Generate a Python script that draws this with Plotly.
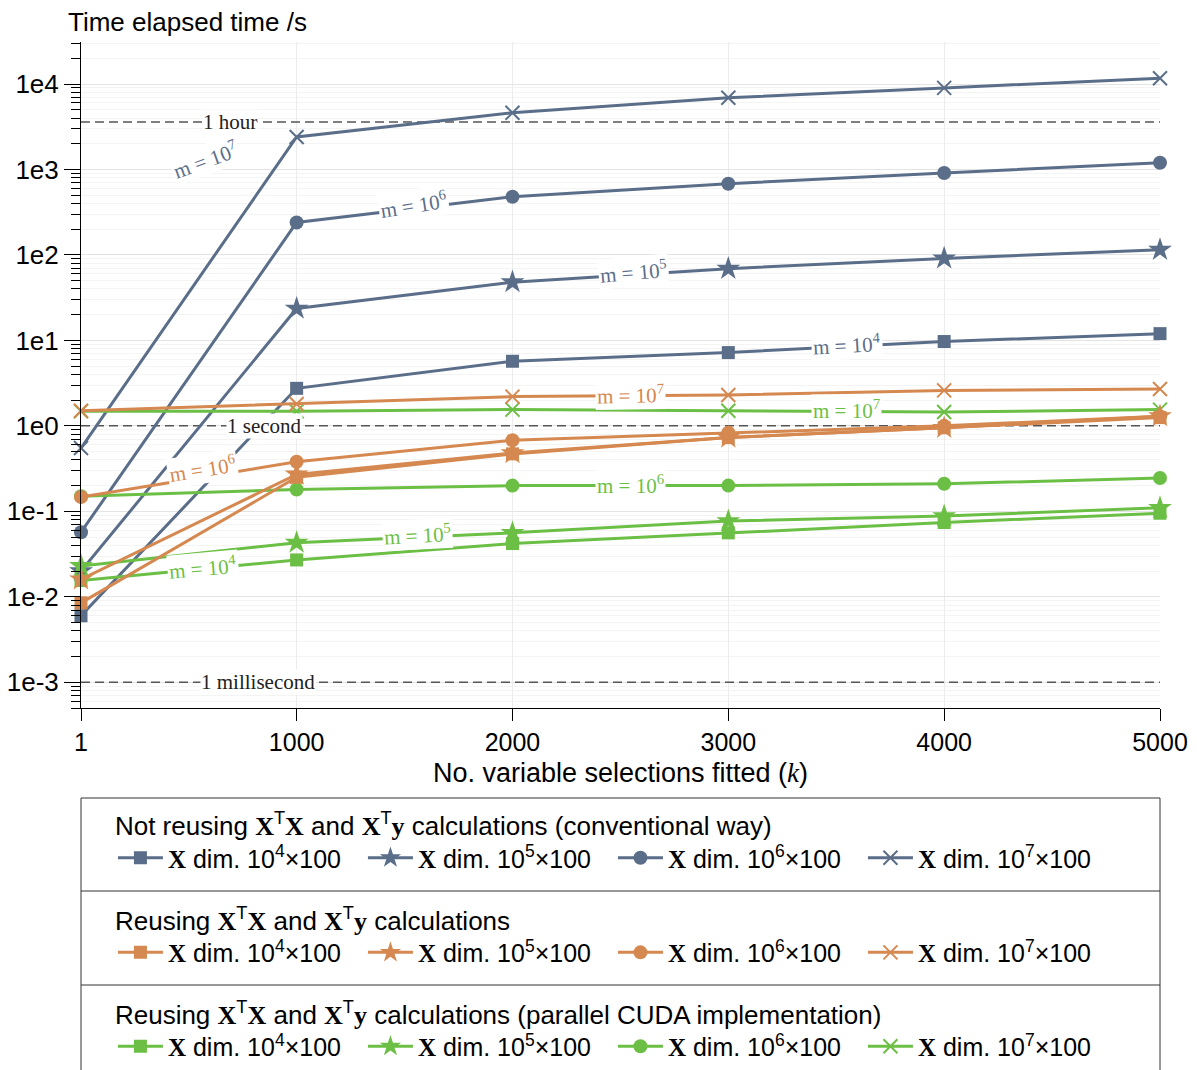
import math
import plotly.graph_objects as go

# ---------------- data ----------------
k = [1, 1000, 2000, 3000, 4000, 5000]

conv_1e4 = [0.006, 2.75, 5.7, 7.2, 9.7, 12.0]
conv_1e5 = [0.02, 23.6, 48, 69, 91, 115]
conv_1e6 = [0.057, 240, 480, 680, 910, 1200]
conv_1e7 = [0.55, 2400, 4600, 6900, 9000, 11700]

reuse_1e4 = [0.0085, 0.25, 0.47, 0.73, 0.95, 1.25]
reuse_1e5 = [0.016, 0.27, 0.48, 0.73, 0.95, 1.3]
reuse_1e6 = [0.147, 0.38, 0.68, 0.83, 1.0, 1.3]
reuse_1e7 = [1.5, 1.8, 2.2, 2.3, 2.6, 2.7]

cuda_1e4 = [0.0155, 0.027, 0.042, 0.056, 0.074, 0.095]
cuda_1e5 = [0.023, 0.043, 0.056, 0.077, 0.088, 0.11]
cuda_1e6 = [0.15, 0.18, 0.2, 0.2, 0.21, 0.245]
cuda_1e7 = [1.48, 1.48, 1.55, 1.5, 1.45, 1.55]

ref_values = [3600, 1, 0.001]
ref_labels = ["1 hour", "1 second", "1 millisecond"]

y_tickvals = [1e-3, 1e-2, 1e-1, 1e0, 1e1, 1e2, 1e3, 1e4]
y_ticktext = ["1e-3", "1e-2", "1e-1", "1e0", "1e1", "1e2", "1e3", "1e4"]
x_tickvals = [1, 1000, 2000, 3000, 4000, 5000]

group_titles = [
    "Not reusing {XT}X and {XT}y calculations (conventional way)",
    "Reusing {XT}X and {XT}y calculations",
    "Reusing {XT}X and {XT}y calculations (parallel CUDA implementation)",
]
dims = ["4", "5", "6", "7"]

# ---------------- styles ----------------
BLUE = "#5b6e89"
ORANGE = "#d5884f"
GREEN = "#6cbf45"
SERIF = "Liberation Serif"
SANS = "Liberation Sans"

symbols = ["square", "star", "circle", "x-thin"]
msizes = [13, 18, 14, 14]

groups = [
    (BLUE, [conv_1e4, conv_1e5, conv_1e6, conv_1e7], "legend"),
    (ORANGE, [reuse_1e4, reuse_1e5, reuse_1e6, reuse_1e7], "legend2"),
    (GREEN, [cuda_1e4, cuda_1e5, cuda_1e6, cuda_1e7], "legend3"),
]

def bx(s):
    return f'<span style="font-family:{SERIF}"><b>{s}</b></span>'

def mathify(t):
    return t.replace("{XT}X", bx("X") + "<sup>T</sup>" + bx("X")).replace(
        "{XT}y", bx("X") + "<sup>T</sup>" + bx("y"))

fig = go.Figure()

# reference dashed lines
for v in ref_values:
    fig.add_trace(go.Scatter(x=[k[0], k[-1]], y=[v, v], mode="lines",
                             line=dict(color="#555555", width=1.5, dash="9px,5px"),
                             showlegend=False, hoverinfo="skip"))

draw_order = [0, 2, 1]
for gi in draw_order:
    color, series, leg = groups[gi]
    for si, ys in enumerate(series):
        sym = symbols[si]
        marker = dict(symbol=sym, size=msizes[si], color=color)
        if sym == "x-thin":
            marker["line"] = dict(color=color, width=2)
        else:
            marker["line"] = dict(width=0)
        fig.add_trace(go.Scatter(
            x=k, y=ys, mode="lines+markers",
            line=dict(color=color, width=3),
            marker=marker, cliponaxis=False,
            name=bx("X") + f" dim. 10<sup>{dims[si]}</sup>×100",
            legend=leg, legendrank=si,
        ))

# inline line labels: (exponent, color, k position, log10 y, angle)
line_labels = [
    ("7", BLUE, 579, 3.113, -20),
    ("6", BLUE, 1541, 2.588, -9),
    ("5", BLUE, 2563, 1.806, -5),
    ("4", BLUE, 3548, 0.955, -3),
    ("7", ORANGE, 2549, 0.371, -1),
    ("6", ORANGE, 565, -0.504, -9),
    ("7", GREEN, 3548, 0.196, 0),
    ("6", GREEN, 2549, -0.691, 0),
    ("5", GREEN, 1560, -1.274, -3),
    ("4", GREEN, 565, -1.659, -5),
]
annotations = []
for e, c, xx, yy, ang in line_labels:
    annotations.append(dict(
        x=xx, y=yy, xref="x", yref="y", text=f"m = 10<sup>{e}</sup>",
        showarrow=False, textangle=ang, bgcolor="white", borderpad=1,
        font=dict(family=SERIF, size=21, color=c)))

ref_label_pos = [690, 852, 820]
for v, lab, xx in zip(ref_values, ref_labels, ref_label_pos):
    annotations.append(dict(
        x=xx, y=math.log10(v), xref="x", yref="y", text=lab, showarrow=False,
        bgcolor="white", borderpad=0,
        font=dict(family=SERIF, size=21, color="#222222")))

annotations.append(dict(
    x=-0.013, y=1.0305, xref="paper", yref="paper", xanchor="left", yanchor="middle",
    text="Time elapsed time /s", showarrow=False, borderpad=0,
    font=dict(family=SANS, size=26, color="black")))

# minor ticks
minor_vals = []
for d in range(-4, 5):
    for m in range(2, 10):
        minor_vals.append(m * 10 ** d)

# page body has an 8px margin: compensate so the plot lands where the reference has it
fig.update_layout(
    width=1189, height=1062,
    margin=dict(l=73, r=37, t=34, b=362, autoexpand=False),
    plot_bgcolor="white", paper_bgcolor="white",
    font=dict(family=SANS, size=25, color="black"),
    annotations=annotations,
    xaxis=dict(
        range=[1, 5000], tickvals=x_tickvals, ticks="outside", ticklen=12,
        tickcolor="black", showline=True, linecolor="black", linewidth=1,
        showgrid=True, gridcolor="#ececec", zeroline=False,
        tickfont=dict(family=SANS, size=25), ticklabelstandoff=0,
        title=dict(text=f'No. variable selections fitted (<span style="font-family:{SERIF}"><i>k</i></span>)',
                   font=dict(family=SANS, size=27), standoff=8),
    ),
    yaxis=dict(
        type="log", range=[math.log10(5e-4), math.log10(3.1e4)],
        tickvals=y_tickvals, ticktext=y_ticktext, ticks="outside", ticklen=16,
        tickcolor="black", showline=True, linecolor="black", linewidth=1,
        showgrid=True, gridcolor="#e4e4e4", zeroline=False,
        tickfont=dict(family=SANS, size=26),
        minor=dict(tickvals=minor_vals, ticks="outside", ticklen=9, tickcolor="black",
                   showgrid=True, gridcolor="#f4f4f4"),
    ),
)

# legends
leg_tops = [-0.140, -0.282, -0.423]
for i, name in enumerate(["legend", "legend2", "legend3"]):
    fig.update_layout({name: dict(
        x=0.0296, xanchor="left", y=leg_tops[i], yanchor="top",
        orientation="h", bgcolor="rgba(0,0,0,0)", borderwidth=0,
        entrywidth=190, itemwidth=45, tracegroupgap=0,
        font=dict(family=SANS, size=25, color="black"),
        title=dict(text=mathify(group_titles[i]), side="top",
                   font=dict(family=SANS, size=26, color="black")),
    )})

# legend boxes
def py(p):
    return (708 - p) / 666.0

shapes = [
    dict(type="rect", xref="paper", yref="paper", x0=0, x1=1, y0=py(1080), y1=py(798),
         line=dict(color="#333333", width=1)),
    dict(type="line", xref="paper", yref="paper", x0=0, x1=1, y0=py(891), y1=py(891),
         line=dict(color="#333333", width=1)),
    dict(type="line", xref="paper", yref="paper", x0=0, x1=1, y0=py(985), y1=py(985),
         line=dict(color="#333333", width=1)),
]
fig.update_layout(shapes=shapes)

fig.write_html("out.html")
